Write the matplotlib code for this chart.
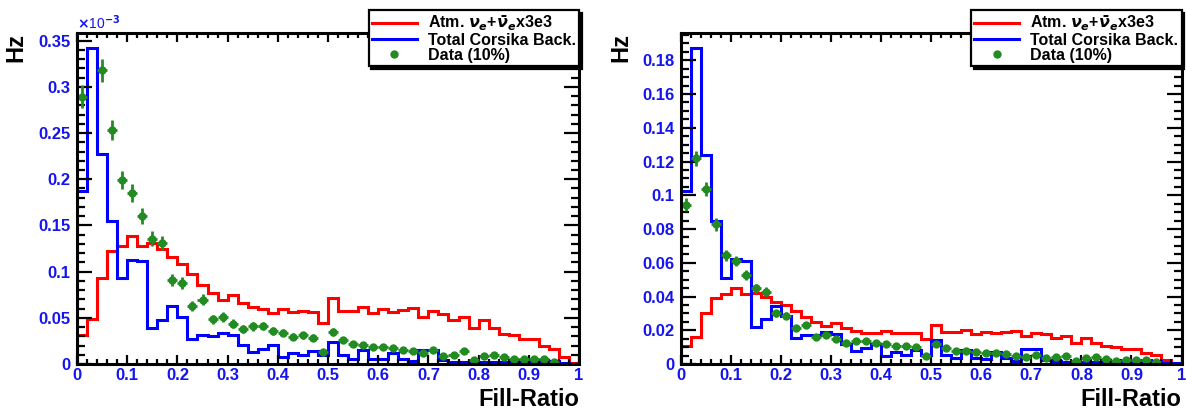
import numpy as np
import matplotlib
matplotlib.use('Agg')
import matplotlib.pyplot as plt
from matplotlib.lines import Line2D
from matplotlib.ticker import MultipleLocator, FuncFormatter

plt.rcParams['font.family'] = ['Liberation Sans', 'DejaVu Sans']
plt.rcParams['font.weight'] = 'bold'
plt.rcParams['axes.labelweight'] = 'bold'
plt.rcParams['mathtext.fontset'] = 'dejavusans'

# Fill-ratio binning: 50 bins from 0 to 1
edges = np.linspace(0.0, 1.0, 51)
centers = 0.5 * (edges[:-1] + edges[1:])
half_width = 0.5 * (edges[1] - edges[0])

labels = [r'Atm. $\nu_{e}$+$\bar{\nu}_{e}$x3e3', 'Total Corsika Back.', 'Data (10%)']

# ---- left panel (units of 1e-3 Hz) ----
left_red = [0.031, 0.049, 0.093, 0.122, 0.128, 0.139, 0.128, 0.131, 0.125, 0.116,
            0.108, 0.0975, 0.086, 0.077, 0.069, 0.075, 0.066, 0.062, 0.059, 0.055,
            0.060, 0.0566, 0.057, 0.0558, 0.0442, 0.071, 0.0576, 0.0576, 0.062, 0.055,
            0.0594, 0.0558, 0.0587, 0.0601, 0.0514, 0.0569, 0.054, 0.0475, 0.0504, 0.0388,
            0.0478, 0.0388, 0.0323, 0.0312, 0.0275, 0.0275, 0.0196, 0.016, 0.008, 0.0014]
left_blue = [0.187, 0.342, 0.227, 0.155, 0.093, 0.113, 0.111, 0.039, 0.0475, 0.0623,
             0.051, 0.027, 0.031, 0.030, 0.0334, 0.0315, 0.0207, 0.013, 0.0166, 0.0207,
             0.008, 0.0123, 0.0094, 0.0141, 0.0094, 0.0243, 0.0094, 0.0058, 0.0149, 0.0058,
             0.0050, 0.0123, 0.0058, 0.0033, 0.0152, 0.0149, 0.0043, 0.0027, 0.0025, 0.0024,
             0.0022, 0.0022, 0.0020, 0.0018, 0.0016, 0.0018, 0.0035, 0.0030, 0.0012, 0.0005]
left_data = [0.2895, 0.373, 0.318, 0.253, 0.199, 0.185, 0.160, 0.1355, 0.131, 0.0913,
             0.0873, 0.063, 0.0696, 0.0486, 0.051, 0.0438, 0.0377, 0.0406, 0.0413, 0.0359,
             0.034, 0.0297, 0.0312, 0.0286, 0.013, 0.0348, 0.0261, 0.0214, 0.0207, 0.0188,
             0.0188, 0.017, 0.0152, 0.0141, 0.0116, 0.0149, 0.0087, 0.0094, 0.0141, 0.0043,
             0.0087, 0.0098, 0.0080, 0.0058, 0.0058, 0.0051, 0.0051, 0.0025, np.nan, np.nan]
left_err = [0.012, 0.0135, 0.0125, 0.011, 0.0098, 0.0095, 0.0088, 0.0081, 0.008, 0.0066,
            0.0065, 0.0055, 0.0058, 0.0048, 0.005, 0.0046, 0.0043, 0.0044, 0.0045, 0.0042,
            0.0041, 0.0038, 0.0039, 0.0037, 0.0025, 0.0041, 0.0036, 0.0032, 0.0032, 0.003,
            0.003, 0.0029, 0.0027, 0.0026, 0.0024, 0.0027, 0.002, 0.0021, 0.0026, 0.0015,
            0.002, 0.0022, 0.002, 0.0017, 0.0017, 0.0016, 0.0016, 0.0011, np.nan, np.nan]

# ---- right panel (Hz) ----
right_red = [0.0107, 0.0162, 0.030, 0.0389, 0.0412, 0.0448, 0.0412, 0.0418, 0.0399, 0.0369,
             0.0349, 0.0316, 0.028, 0.025, 0.0227, 0.0241, 0.0211, 0.0197, 0.0185, 0.0182,
             0.0197, 0.0185, 0.0185, 0.0182, 0.0146, 0.0231, 0.0189, 0.0189, 0.0203, 0.0178,
             0.0192, 0.0182, 0.0190, 0.0195, 0.0167, 0.0185, 0.0176, 0.0156, 0.0165, 0.0127,
             0.0155, 0.0127, 0.0105, 0.0101, 0.0089, 0.0089, 0.0064, 0.0052, 0.0026, 0.0005]
right_blue = [0.1026, 0.187, 0.124, 0.0848, 0.0511, 0.0622, 0.0612, 0.0217, 0.0265, 0.0345,
              0.0284, 0.0152, 0.0173, 0.017, 0.0188, 0.0176, 0.0118, 0.0077, 0.0097, 0.0118,
              0.0049, 0.0071, 0.0055, 0.0083, 0.0055, 0.0140, 0.0055, 0.0035, 0.0083, 0.0035,
              0.0030, 0.0070, 0.0035, 0.0020, 0.0089, 0.0088, 0.0025, 0.0015, 0.0014, 0.0013,
              0.0012, 0.0012, 0.0011, 0.0010, 0.0010, 0.0010, 0.0022, 0.0018, 0.0006, 0.0003]
right_data = [0.0945, 0.1218, 0.1036, 0.0827, 0.0645, 0.061, 0.0527, 0.0448, 0.0428, 0.030,
              0.0286, 0.0211, 0.0231, 0.0162, 0.0172, 0.0146, 0.0126, 0.0136, 0.0138, 0.0122,
              0.0116, 0.0107, 0.0109, 0.0099, 0.0047, 0.0118, 0.0093, 0.0079, 0.0079, 0.0069,
              0.0067, 0.0063, 0.0057, 0.0049, 0.0039, 0.0053, 0.0034, 0.0039, 0.0049, 0.0020,
              0.0034, 0.0039, 0.0030, 0.0020, 0.0024, 0.0024, 0.0024, 0.0014, np.nan, np.nan]
right_err = [0.0039, 0.0044, 0.0041, 0.0036, 0.0032, 0.0031, 0.0029, 0.0026, 0.0026, 0.0022,
             0.0021, 0.0018, 0.0019, 0.0016, 0.0016, 0.0015, 0.0014, 0.0014, 0.0015, 0.0014,
             0.0013, 0.0012, 0.0013, 0.0012, 0.0008, 0.0013, 0.0012, 0.001, 0.001, 0.001,
             0.001, 0.0009, 0.0009, 0.0008, 0.0008, 0.0009, 0.0007, 0.0007, 0.0008, 0.0005,
             0.0007, 0.0007, 0.0007, 0.0006, 0.0006, 0.0005, 0.0005, 0.0004, np.nan, np.nan]

GREEN = '#228b22'
TICK_BLUE = '#1414f0'


def draw_panel(ax, red, blue, data, err, ymax, ymajor, yminor):
    ax.stairs(red, edges, baseline=0, color='red', lw=2.2)
    ax.stairs(blue, edges, baseline=0, color='blue', lw=2.2)
    ax.errorbar(centers, data, xerr=half_width, yerr=err, fmt='o', color=GREEN,
                ms=5, elinewidth=2.0, capsize=0)
    ax.set_xlim(0, 1)
    ax.set_ylim(0, ymax)

    ax.xaxis.set_major_locator(MultipleLocator(0.1))
    ax.xaxis.set_minor_locator(MultipleLocator(0.02))
    ax.yaxis.set_major_locator(MultipleLocator(ymajor))
    ax.yaxis.set_minor_locator(MultipleLocator(yminor))
    fmt = FuncFormatter(lambda v, pos: f'{v:g}')
    ax.xaxis.set_major_formatter(fmt)
    ax.yaxis.set_major_formatter(fmt)

    for sp in ax.spines.values():
        sp.set_linewidth(2.2)
    ax.tick_params(which='both', direction='in', top=True, right=True,
                   labelcolor=TICK_BLUE, labelsize=12, width=1.6)
    ax.tick_params(axis='x', which='major', length=6.5, pad=3)
    ax.tick_params(axis='x', which='minor', length=3.6)
    ax.tick_params(axis='y', which='major', length=10.8, pad=4.5)
    ax.tick_params(axis='y', which='minor', length=5.8)

    ax.set_xlabel('Fill-Ratio', loc='right', fontsize=17, fontweight='bold')
    ax.xaxis.set_label_coords(1.0, -0.072)
    ax.set_ylabel('Hz', loc='top', fontsize=17, fontweight='bold')
    ax.yaxis.set_label_coords(-0.098, 1.0)

    handles = [Line2D([], [], color='red', lw=2.2),
               Line2D([], [], color='blue', lw=2.2),
               Line2D([], [], color=GREEN, marker='o', ls='none', ms=5)]
    bb = ax.get_position()
    leg = ax.legend(handles, labels, loc='upper right',
                    bbox_to_anchor=(bb.x1, 1 - 10 / 411), bbox_transform=ax.figure.transFigure,
                    fontsize=11.5, frameon=True, fancybox=False, framealpha=1,
                    edgecolor='black', borderpad=0.2, labelspacing=0.0,
                    handlelength=2.8, handletextpad=0.7, borderaxespad=0,
                    shadow={'color': 'black', 'alpha': 1})
    leg.get_frame().set_linewidth(1.6)


fig = plt.figure(figsize=(11.86, 4.11), dpi=100)
ax1 = fig.add_axes([77 / 1186, 1 - 364 / 411, 502 / 1186, 330.7 / 411])
ax2 = fig.add_axes([681 / 1186, 1 - 364 / 411, 500.5 / 1186, 330.7 / 411])

draw_panel(ax1, left_red, left_blue, left_data, left_err, 0.358, 0.05, 0.01)
draw_panel(ax2, right_red, right_blue, right_data, right_err, 0.196, 0.02, 0.005)

ax1.text(0.0, 1.005, r'$\times$10$^{-3}$', transform=ax1.transAxes, ha='left', va='bottom',
         fontsize=10, fontweight='normal', color=TICK_BLUE)

fig.savefig('out.png', dpi=100)
